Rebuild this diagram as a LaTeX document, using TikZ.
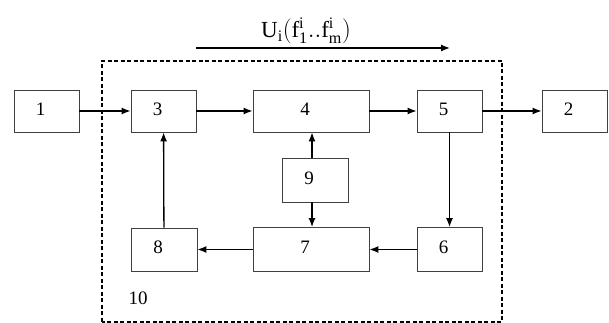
\documentclass[tikz,border=0pt]{standalone}
\usepackage{fontspec}
\setmainfont{Liberation Serif}
\usetikzlibrary{arrows.meta}
\begin{document}
\begin{tikzpicture}[x=1pt,y=1pt,
  box/.style={draw=black!75,line width=0.9pt,minimum height=42pt,inner sep=0pt,fill=white},
  narrow/.style={box,minimum width=65pt},
  wide/.style={box,minimum width=116pt},
  num/.style={font=\fontsize{19}{19}\selectfont,xshift=-6pt,yshift=2pt,inner sep=0pt},
  conn/.style={line width=1.3pt,-{Latex[length=9pt,width=7pt]}}]
\useasboundingbox (0,0) rectangle (609,323);
\draw[line width=1.5pt,dash pattern=on 4pt off 2.5pt] (102,1) rectangle (502,262);
\node[narrow,label={[num]center:1}] (b1) at (46.5,212) {};
\node[narrow,label={[num]center:3}] (b3) at (163.5,212) {};
\node[wide,label={[num]center:4}] (b4) at (311,212) {};
\node[narrow,label={[num]center:5}] (b5) at (449.5,212) {};
\node[narrow,label={[num]center:2}] (b2) at (574.5,212) {};
\node[narrow,minimum width=66pt,minimum height=44pt,label={[num]center:9}] (b9) at (315,143) {};
\node[narrow,minimum width=66pt,minimum height=43pt,label={[num]center:8}] (b8) at (164,73.5) {};
\node[wide,minimum height=44pt,label={[num]center:7}] (b7) at (311,73.5) {};
\node[narrow,minimum height=44pt,label={[num]center:6}] (b6) at (449.5,73.5) {};
\node[font=\fontsize{19}{19}\selectfont,inner sep=0pt] (l10) at (138,25) {10};
\coordinate (as) at (196,275);
\coordinate (ae) at (450,275);
\node[font=\fontsize{23}{23}\selectfont,inner sep=0pt] (lu) at (306,292) {$\mathrm{U_i(f_1^i..f_m^i)}$};
\draw[conn] (as) -- (ae);
\draw[conn] (b1) -- (b3);
\draw[conn] (b3) -- (b4);
\draw[conn] (b4) -- (b5);
\draw[conn] (b5) -- (b2);
\draw[conn] (b5.south) -- (b6.north);
\draw[conn] (b6) -- (b7);
\draw[conn] (b7) -- (b8);
\draw[conn] (b8) -- (b3);
\draw[conn] ([xshift=-3pt]b9.north) -- ([xshift=1pt]b4.south);
\draw[conn] ([xshift=-3pt]b9.south) -- ([xshift=1pt]b7.north);
\end{tikzpicture}
\end{document}
